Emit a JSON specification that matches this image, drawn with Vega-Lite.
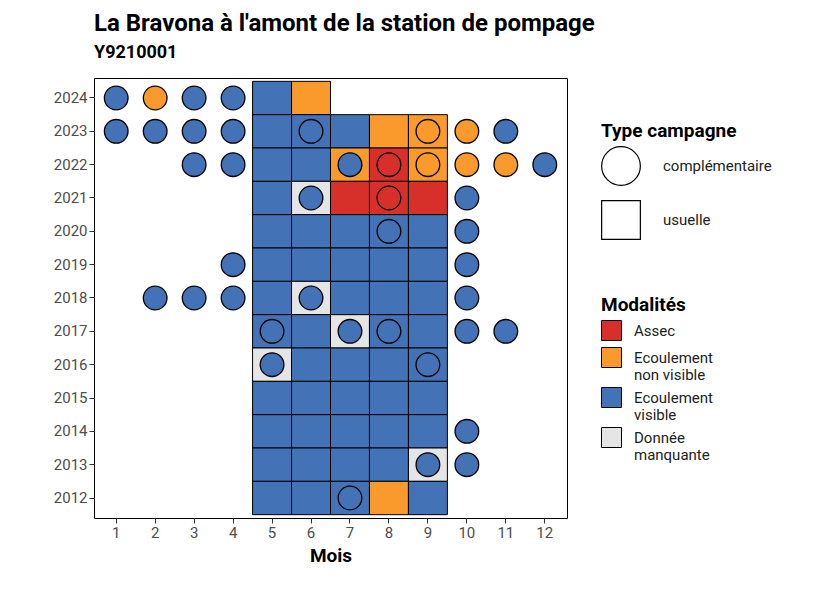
{
"$schema":"https://vega.github.io/schema/vega-lite/v6.json",
"width":473,"height":440,
"padding":{"left":53,"top":12,"right":10,"bottom":10},
"background":"white",
"title":{"text":"La Bravona à l'amont de la station de pompage","subtitle":"Y9210001","anchor":"start","frame":"group","font":"Roboto","fontSize":24,"fontWeight":"bold","subtitleFont":"Roboto","subtitleFontSize":18,"subtitleFontWeight":"bold","subtitleColor":"black","subtitlePadding":8,"offset":16},
"config":{"font":"Roboto","view":{"stroke":"black","strokeWidth":1},"axis":{"grid":false,"labelFontSize":15,"labelColor":"#4d4d4d","domain":false,"tickColor":"#333","labelAngle":0},"legend":{"titleFontSize":19,"titleFontWeight":"bold","labelFontSize":15,"labelColor":"#222","titleColor":"black"}},
"datasets":{"d":[
{"y":2024,"m":5,"v":"V","t":"usuelle"},{"y":2024,"m":6,"v":"N","t":"usuelle"},
{"y":2023,"m":5,"v":"V","t":"usuelle"},{"y":2023,"m":6,"v":"V","t":"usuelle"},{"y":2023,"m":7,"v":"V","t":"usuelle"},{"y":2023,"m":8,"v":"N","t":"usuelle"},{"y":2023,"m":9,"v":"N","t":"usuelle"},
{"y":2022,"m":5,"v":"V","t":"usuelle"},{"y":2022,"m":6,"v":"V","t":"usuelle"},{"y":2022,"m":7,"v":"N","t":"usuelle"},{"y":2022,"m":8,"v":"A","t":"usuelle"},{"y":2022,"m":9,"v":"N","t":"usuelle"},
{"y":2021,"m":5,"v":"V","t":"usuelle"},{"y":2021,"m":6,"v":"M","t":"usuelle"},{"y":2021,"m":7,"v":"A","t":"usuelle"},{"y":2021,"m":8,"v":"A","t":"usuelle"},{"y":2021,"m":9,"v":"A","t":"usuelle"},
{"y":2020,"m":5,"v":"V","t":"usuelle"},{"y":2020,"m":6,"v":"V","t":"usuelle"},{"y":2020,"m":7,"v":"V","t":"usuelle"},{"y":2020,"m":8,"v":"V","t":"usuelle"},{"y":2020,"m":9,"v":"V","t":"usuelle"},
{"y":2019,"m":5,"v":"V","t":"usuelle"},{"y":2019,"m":6,"v":"V","t":"usuelle"},{"y":2019,"m":7,"v":"V","t":"usuelle"},{"y":2019,"m":8,"v":"V","t":"usuelle"},{"y":2019,"m":9,"v":"V","t":"usuelle"},
{"y":2018,"m":5,"v":"V","t":"usuelle"},{"y":2018,"m":6,"v":"M","t":"usuelle"},{"y":2018,"m":7,"v":"V","t":"usuelle"},{"y":2018,"m":8,"v":"V","t":"usuelle"},{"y":2018,"m":9,"v":"V","t":"usuelle"},
{"y":2017,"m":5,"v":"V","t":"usuelle"},{"y":2017,"m":6,"v":"V","t":"usuelle"},{"y":2017,"m":7,"v":"M","t":"usuelle"},{"y":2017,"m":8,"v":"V","t":"usuelle"},{"y":2017,"m":9,"v":"V","t":"usuelle"},
{"y":2016,"m":5,"v":"M","t":"usuelle"},{"y":2016,"m":6,"v":"V","t":"usuelle"},{"y":2016,"m":7,"v":"V","t":"usuelle"},{"y":2016,"m":8,"v":"V","t":"usuelle"},{"y":2016,"m":9,"v":"V","t":"usuelle"},
{"y":2015,"m":5,"v":"V","t":"usuelle"},{"y":2015,"m":6,"v":"V","t":"usuelle"},{"y":2015,"m":7,"v":"V","t":"usuelle"},{"y":2015,"m":8,"v":"V","t":"usuelle"},{"y":2015,"m":9,"v":"V","t":"usuelle"},
{"y":2014,"m":5,"v":"V","t":"usuelle"},{"y":2014,"m":6,"v":"V","t":"usuelle"},{"y":2014,"m":7,"v":"V","t":"usuelle"},{"y":2014,"m":8,"v":"V","t":"usuelle"},{"y":2014,"m":9,"v":"V","t":"usuelle"},
{"y":2013,"m":5,"v":"V","t":"usuelle"},{"y":2013,"m":6,"v":"V","t":"usuelle"},{"y":2013,"m":7,"v":"V","t":"usuelle"},{"y":2013,"m":8,"v":"V","t":"usuelle"},{"y":2013,"m":9,"v":"M","t":"usuelle"},
{"y":2012,"m":5,"v":"V","t":"usuelle"},{"y":2012,"m":6,"v":"V","t":"usuelle"},{"y":2012,"m":7,"v":"V","t":"usuelle"},{"y":2012,"m":8,"v":"N","t":"usuelle"},{"y":2012,"m":9,"v":"V","t":"usuelle"},
{"y":2024,"m":1,"v":"V","t":"complémentaire"},{"y":2024,"m":2,"v":"N","t":"complémentaire"},{"y":2024,"m":3,"v":"V","t":"complémentaire"},{"y":2024,"m":4,"v":"V","t":"complémentaire"},
{"y":2023,"m":1,"v":"V","t":"complémentaire"},{"y":2023,"m":2,"v":"V","t":"complémentaire"},{"y":2023,"m":3,"v":"V","t":"complémentaire"},{"y":2023,"m":4,"v":"V","t":"complémentaire"},{"y":2023,"m":6,"v":"V","t":"complémentaire"},{"y":2023,"m":9,"v":"N","t":"complémentaire"},{"y":2023,"m":10,"v":"N","t":"complémentaire"},{"y":2023,"m":11,"v":"V","t":"complémentaire"},
{"y":2022,"m":3,"v":"V","t":"complémentaire"},{"y":2022,"m":4,"v":"V","t":"complémentaire"},{"y":2022,"m":7,"v":"V","t":"complémentaire"},{"y":2022,"m":8,"v":"A","t":"complémentaire"},{"y":2022,"m":9,"v":"N","t":"complémentaire"},{"y":2022,"m":10,"v":"N","t":"complémentaire"},{"y":2022,"m":11,"v":"N","t":"complémentaire"},{"y":2022,"m":12,"v":"V","t":"complémentaire"},
{"y":2021,"m":6,"v":"V","t":"complémentaire"},{"y":2021,"m":8,"v":"A","t":"complémentaire"},{"y":2021,"m":10,"v":"V","t":"complémentaire"},
{"y":2020,"m":8,"v":"V","t":"complémentaire"},{"y":2020,"m":10,"v":"V","t":"complémentaire"},
{"y":2019,"m":4,"v":"V","t":"complémentaire"},{"y":2019,"m":10,"v":"V","t":"complémentaire"},
{"y":2018,"m":2,"v":"V","t":"complémentaire"},{"y":2018,"m":3,"v":"V","t":"complémentaire"},{"y":2018,"m":4,"v":"V","t":"complémentaire"},{"y":2018,"m":6,"v":"V","t":"complémentaire"},{"y":2018,"m":10,"v":"V","t":"complémentaire"},
{"y":2017,"m":5,"v":"V","t":"complémentaire"},{"y":2017,"m":7,"v":"V","t":"complémentaire"},{"y":2017,"m":8,"v":"V","t":"complémentaire"},{"y":2017,"m":10,"v":"V","t":"complémentaire"},{"y":2017,"m":11,"v":"V","t":"complémentaire"},
{"y":2016,"m":5,"v":"V","t":"complémentaire"},{"y":2016,"m":9,"v":"V","t":"complémentaire"},
{"y":2014,"m":10,"v":"V","t":"complémentaire"},
{"y":2013,"m":9,"v":"V","t":"complémentaire"},{"y":2013,"m":10,"v":"V","t":"complémentaire"},
{"y":2012,"m":7,"v":"V","t":"complémentaire"}
]},
"data":{"name":"d"},
"encoding":{
"x":{"field":"m","type":"ordinal","scale":{"domain":[1,2,3,4,5,6,7,8,9,10,11,12],"paddingInner":0,"paddingOuter":0.07},"axis":{"title":"Mois","titleFontSize":19,"titleFontWeight":"bold","titleColor":"black","titlePadding":6}},
"y":{"field":"y","type":"ordinal","sort":"descending","scale":{"domain":[2024,2023,2022,2021,2020,2019,2018,2017,2016,2015,2014,2013,2012],"paddingInner":0,"paddingOuter":0.1},"axis":{"title":null}}
},
"layer":[
{"transform":[{"filter":"datum.t=='usuelle'"}],"mark":{"type":"rect","stroke":"black","strokeWidth":1},
"encoding":{"fill":{"field":"v","type":"nominal","scale":{"domain":["A","N","V","M"],"range":["#D7302A","#FB9A2C","#4372B6","#E5E5E5"]},
"legend":{"title":"Modalités","orient":"none","legendX":507,"legendY":218,"symbolType":"square","symbolSize":400,"symbolStrokeColor":"black","symbolStrokeWidth":1,"rowPadding":2,"labelOffset":12,"labelExpr":"datum.value=='A'?'Assec':datum.value=='N'?['Ecoulement','non visible']:datum.value=='V'?['Ecoulement','visible']:['Donnée','manquante']"}}}},
{"transform":[{"filter":"datum.t=='complémentaire'"}],"mark":{"type":"point","filled":true,"stroke":"black","strokeWidth":1.3,"size":560,"opacity":1},
"encoding":{"fill":{"field":"v","type":"nominal","legend":null},
"shape":{"field":"t","type":"nominal","scale":{"domain":["complémentaire","usuelle"],"range":["circle","square"]},
"legend":{"title":"Type campagne","orient":"none","legendX":507,"legendY":44,"symbolSize":1500,"symbolFillColor":"white","symbolStrokeColor":"black","symbolStrokeWidth":1.2,"rowPadding":10,"labelOffset":22}}}}
],
"resolve":{"scale":{"fill":"shared"}}
}
